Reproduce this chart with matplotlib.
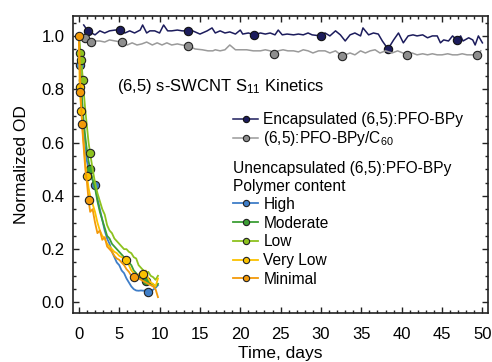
import numpy as np
import matplotlib.pyplot as plt
from matplotlib.ticker import MultipleLocator

plt.rcParams['font.family'] = ['Liberation Sans', 'DejaVu Sans']
plt.rcParams['mathtext.fontset'] = 'custom'
plt.rcParams['mathtext.rm'] = 'Liberation Sans'
plt.rcParams['mathtext.it'] = 'Liberation Sans:italic'

# encapsulated (6,5):PFO-BPy
enc_t = [0.6, 1.1, 2.0, 2.6, 3.2, 3.8, 4.5, 5.1, 5.7, 6.3, 6.9, 7.6, 7.9, 8.4, 8.8,
         9.4, 10.0, 10.5, 11.0, 11.5, 12.2, 12.8, 13.5, 14.1, 15.0, 15.9, 16.5, 16.9,
         17.5, 18.1, 18.7, 19.4, 20.0, 20.3, 21.0, 21.7, 22.5, 23.1, 23.7, 24.3, 24.7,
         25.2, 25.8, 26.6, 27.2, 27.8, 28.4, 28.9, 30.0, 30.5, 31.1, 31.8, 32.4, 33.0,
         33.6, 34.2, 34.9, 35.2, 35.9, 36.5, 37.1, 37.6, 38.3, 39.0, 39.6, 40.2, 40.8,
         41.4, 41.9, 42.6, 43.2, 43.8, 44.4, 44.8, 45.2, 45.8, 46.3, 46.8, 47.3, 47.6,
         48.3, 48.8, 49.1, 49.5, 50.0]
enc_v = [1.041, 1.019, 1.004, 1.019, 1.011, 1.019, 1.022, 1.022, 1.011, 1.019, 1.011,
         1.022, 1.041, 1.011, 1.019, 1.019, 1.011, 1.041, 1.019, 1.019, 1.022, 1.019,
         1.019, 1.019, 1.007, 1.019, 1.030, 1.011, 1.019, 1.011, 1.015, 1.007, 1.022,
         1.007, 1.011, 1.004, 1.011, 1.007, 1.011, 1.004, 1.022, 1.004, 1.007, 1.004,
         1.007, 1.004, 1.011, 1.004, 1.000, 1.011, 1.000, 1.019, 1.004, 0.981, 1.004,
         1.011, 1.000, 1.030, 1.004, 1.011, 1.007, 0.981, 0.951, 0.985, 1.011, 0.974,
         1.000, 1.004, 1.000, 1.004, 0.993, 1.000, 1.000, 0.974, 0.985, 0.981, 1.000,
         0.985, 1.000, 0.981, 0.993, 0.985, 0.966, 1.000, 0.974]
enc_marks = [1.1, 5.1, 13.5, 21.7, 30.0, 38.3, 46.8]

# (6,5):PFO-BPy/C60
c60_t = [0.4, 0.7, 1.5, 2.0, 2.6, 3.2, 3.8, 4.5, 5.3, 6.0, 6.6, 7.2, 7.8, 8.4, 9.1,
         9.7, 10.3, 10.9, 11.5, 12.2, 12.8, 13.5, 14.4, 15.3, 16.0, 16.6, 16.9, 17.5,
         18.1, 18.7, 19.4, 20.0, 20.8, 21.6, 22.5, 23.1, 23.7, 24.2, 24.7, 25.3, 25.9,
         26.6, 27.2, 27.8, 28.4, 29.0, 29.7, 30.5, 31.1, 31.8, 32.6, 33.0, 33.6, 34.2,
         34.9, 35.5, 36.1, 36.7, 37.3, 38.0, 38.8, 39.5, 40.7, 41.3, 41.9, 42.6, 43.2,
         43.8, 44.4, 45.0, 45.7, 46.3, 46.9, 47.5, 48.1, 49.3, 49.8]
c60_v = [1.004, 0.993, 0.977, 0.981, 0.981, 0.977, 0.985, 0.981, 0.977, 0.966, 0.974,
         0.966, 0.970, 0.977, 0.966, 0.974, 0.966, 0.974, 0.966, 0.970, 0.966, 0.963,
         0.951, 0.948, 0.944, 0.944, 0.948, 0.944, 0.948, 0.966, 0.948, 0.948, 0.948,
         0.944, 0.944, 0.948, 0.944, 0.933, 0.944, 0.948, 0.944, 0.944, 0.940, 0.948,
         0.944, 0.936, 0.944, 0.944, 0.936, 0.944, 0.925, 0.929, 0.936, 0.929, 0.944,
         0.936, 0.944, 0.948, 0.936, 0.944, 0.936, 0.944, 0.929, 0.936, 0.929, 0.933,
         0.929, 0.933, 0.929, 0.929, 0.933, 0.929, 0.929, 0.933, 0.929, 0.929, 0.944]
c60_marks = [0.7, 1.5, 5.3, 13.5, 24.2, 32.6, 40.7, 49.3]

# unencapsulated, by polymer content
dec_t = [0.0, 0.1, 0.2, 0.3, 0.4, 0.5, 0.6, 0.8, 1.0, 1.2, 1.4, 1.7, 2.0, 2.3, 2.6,
         2.9, 3.2, 3.5, 3.8, 4.1, 4.4, 4.7, 5.0, 5.3, 5.6, 5.9, 6.2, 6.5, 6.8, 7.1,
         7.4, 7.7, 8.0, 8.3, 8.6, 8.9, 9.2, 9.5, 9.8]
high = [1.0, 0.89, 0.82, 0.76, 0.71, 0.67, 0.63, 0.57, 0.53, 0.50, 0.48, 0.46, 0.44,
        0.39, 0.35, 0.31, 0.27, 0.24, 0.22, 0.19, 0.17, 0.15, 0.14, 0.12, 0.11, 0.09,
        0.075, 0.06, 0.05, 0.045, 0.044, 0.045, 0.044, 0.046, 0.041, 0.043, 0.048,
        0.055, 0.065]
moderate = [1.0, 0.95, 0.88, 0.82, 0.76, 0.72, 0.68, 0.62, 0.57, 0.53, 0.50, 0.46,
            0.43, 0.38, 0.34, 0.31, 0.28, 0.25, 0.24, 0.22, 0.21, 0.20, 0.19, 0.18,
            0.17, 0.165, 0.15, 0.14, 0.12, 0.11, 0.095, 0.09, 0.085, 0.08, 0.075,
            0.07, 0.068, 0.06, 0.07]
low = [1.0, 0.97, 0.935, 0.91, 0.87, 0.835, 0.79, 0.72, 0.66, 0.60, 0.56, 0.50, 0.45,
       0.41, 0.38, 0.35, 0.33, 0.29, 0.27, 0.26, 0.24, 0.23, 0.22, 0.21, 0.20, 0.20,
       0.19, 0.185, 0.17, 0.165, 0.14, 0.13, 0.12, 0.11, 0.115, 0.10, 0.095, 0.085,
       0.10]
very_low = [1.0, 0.81, 0.76, 0.72, 0.68, 0.63, 0.60, 0.52, 0.476, 0.43, 0.40, 0.37,
            0.34, 0.30, 0.27, 0.25, 0.24, 0.22, 0.21, 0.20, 0.19, 0.185, 0.175, 0.17,
            0.165, 0.16, 0.14, 0.12, 0.11, 0.10, 0.105, 0.115, 0.105, 0.12, 0.09,
            0.075, 0.07, 0.06, 0.09]
minimal = [1.0, 0.90, 0.79, 0.73, 0.67, 0.62, 0.58, 0.50, 0.45, 0.385, 0.34, 0.35,
           0.30, 0.26, 0.27, 0.235, 0.245, 0.21, 0.20, 0.19, 0.175, 0.165, 0.16, 0.15,
           0.14, 0.125, 0.115, 0.10, 0.094, 0.095, 0.09, 0.085, 0.08, 0.075, 0.07,
           0.065, 0.06, 0.05, 0.02]
dec_names = ['High', 'Moderate', 'Low', 'Very Low', 'Minimal']
dec_vals = [high, moderate, low, very_low, minimal]
dec_colors = ['#3f7ec8', '#3c9e35', '#8dc21f', '#fbc200', '#f39a0a']
dec_marks = [[0.1, 2.0, 8.6],
             [1.4, 8.3],
             [0.2, 0.3, 0.5, 1.4],
             [0.1, 0.3, 1.0, 5.9, 8.0],
             [0.0, 0.2, 0.4, 1.2, 6.8]]

fig = plt.figure(figsize=(4.92, 3.62), dpi=100)
ax = fig.add_axes([0.148, 0.135, 0.844, 0.821])

h_enc, = ax.plot(enc_t, enc_v, color='#1c1c5c', lw=1.1, marker='o', ms=6,
                 mfc='#1c1c5c', mec='#111111', mew=0.8,
                 markevery=list(np.flatnonzero(np.isin(enc_t, enc_marks))),
                 label='Encapsulated (6,5):PFO-BPy')
h_c60, = ax.plot(c60_t, c60_v, color='#9a9a9a', lw=1.1, marker='o', ms=6,
                 mfc='#8e8e8e', mec='#222222', mew=0.8,
                 markevery=list(np.flatnonzero(np.isin(c60_t, c60_marks))),
                 label='(6,5):PFO-BPy/C$_{60}$')

dec_handles = []
for name, vals, col, mk in zip(dec_names, dec_vals, dec_colors, dec_marks):
    h, = ax.plot(dec_t, vals, color=col, lw=1.3, marker='o', ms=6,
                 mfc=col, mec='#222222', mew=0.8,
                 markevery=list(np.flatnonzero(np.isin(dec_t, mk))), label=name)
    dec_handles.append(h)

ax.set_xlim(-0.75, 50.7)
ax.set_ylim(-0.04, 1.075)
ax.xaxis.set_major_locator(MultipleLocator(5))
ax.xaxis.set_minor_locator(MultipleLocator(1))
ax.yaxis.set_major_locator(MultipleLocator(0.2))
ax.yaxis.set_minor_locator(MultipleLocator(0.05))
ax.yaxis.set_major_formatter(plt.FuncFormatter(lambda v, p: '%.1f' % v))
ax.tick_params(which='both', direction='in', top=True, right=True, width=1.0,
               labelsize=12, color='#222222')
ax.tick_params(which='major', length=4.5)
ax.tick_params(which='minor', length=2.5)
ax.tick_params(axis='x', pad=10)
ax.tick_params(axis='y', pad=6)
for s in ax.spines.values():
    s.set_linewidth(1.2)
    s.set_color('#222222')

ax.set_xlabel('Time, days', fontsize=12.5, labelpad=3)
ax.set_ylabel('Normalized OD', fontsize=12.5, labelpad=9)

ax.text(0.106, 0.764, '(6,5) s-SWCNT S$_{11}$ Kinetics', fontsize=12,
        transform=ax.transAxes, va='center', ha='left')

leg1 = ax.legend(handles=[h_enc, h_c60], loc='center left',
                 bbox_to_anchor=(0.386, 0.615), frameon=False, fontsize=11.2,
                 handlelength=1.6, handletextpad=0.35, labelspacing=0.12,
                 borderpad=0, borderaxespad=0, markerscale=0.75)
ax.add_artist(leg1)
ax.text(0.386, 0.486, 'Unencapsulated (6,5):PFO-BPy', fontsize=11.2,
        transform=ax.transAxes, va='center', ha='left')
ax.text(0.386, 0.426, 'Polymer content', fontsize=11.2,
        transform=ax.transAxes, va='center', ha='left')
ax.legend(handles=dec_handles, loc='center left', bbox_to_anchor=(0.386, 0.240),
          frameon=False, fontsize=11.2, handlelength=1.6, handletextpad=0.35,
          labelspacing=0.24, borderpad=0, borderaxespad=0, markerscale=0.75)

fig.savefig('out.png', dpi=100)
